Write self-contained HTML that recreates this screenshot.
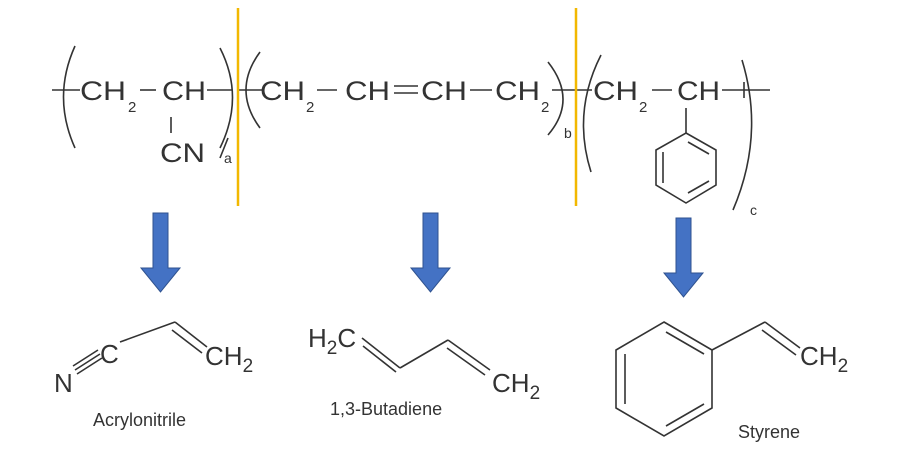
<!DOCTYPE html>
<html><head><meta charset="utf-8"><style>
html,body{margin:0;padding:0;background:#fff;width:915px;height:472px;overflow:hidden}
svg{display:block}
text{font-family:"Liberation Sans",Arial,sans-serif;fill:#333}
</style></head><body>
<svg width="915" height="472" viewBox="0 0 915 472" xmlns="http://www.w3.org/2000/svg">
<g stroke="#333" stroke-width="1.6" fill="none">
<!-- segment a -->
<line x1="52" y1="90" x2="80" y2="90"/>
<path d="M75 46 Q52 97 75 148"/>
<line x1="140" y1="90" x2="156" y2="90"/>
<line x1="207" y1="90" x2="232" y2="90"/>
<line x1="171" y1="117" x2="171" y2="133"/>
<path d="M220 48 Q245 97 220 148"/>
<path d="M228 138 L220 158"/>
<!-- segment b -->
<line x1="238" y1="90" x2="262" y2="90"/>
<path d="M260 52 Q232 90 260 128"/>
<line x1="317" y1="90" x2="337" y2="90"/>
<line x1="394" y1="86" x2="418" y2="86"/>
<line x1="394" y1="93" x2="418" y2="93"/>
<line x1="470" y1="90" x2="492" y2="90"/>
<line x1="552" y1="90" x2="592" y2="90"/>
<path d="M548 62 Q578 100 548 135"/>
<!-- segment c -->
<path d="M601 55 Q572 112 591 172"/>
<line x1="652" y1="90" x2="672" y2="90"/>
<line x1="722" y1="90" x2="770" y2="90"/>
<line x1="744" y1="82" x2="744" y2="98"/>
<path d="M742 60 Q765 135 733 210"/>
<line x1="686" y1="108" x2="686" y2="133"/>
<polygon points="686,133 716,150 716,185 686,203 656,185 656,150"/>
<line x1="688" y1="142" x2="709" y2="154"/>
<line x1="709" y1="181" x2="688" y2="193"/>
<line x1="663" y1="152" x2="663" y2="183"/>
</g>
<g font-size="27">
<text x="80" y="100" textLength="46" lengthAdjust="spacingAndGlyphs">CH</text><text x="128" y="112" font-size="15">2</text>
<text x="162" y="100" textLength="44" lengthAdjust="spacingAndGlyphs">CH</text>
<text x="160" y="162" textLength="45" lengthAdjust="spacingAndGlyphs">CN</text>
<text x="224" y="163" font-size="14">a</text>
<text x="260" y="100" textLength="45" lengthAdjust="spacingAndGlyphs">CH</text><text x="306" y="112" font-size="15">2</text>
<text x="345" y="100" textLength="45" lengthAdjust="spacingAndGlyphs">CH</text>
<text x="421" y="100" textLength="46" lengthAdjust="spacingAndGlyphs">CH</text>
<text x="495" y="100" textLength="45" lengthAdjust="spacingAndGlyphs">CH</text><text x="541" y="112" font-size="15">2</text>
<text x="564" y="138" font-size="14">b</text>
<text x="593" y="100" textLength="45" lengthAdjust="spacingAndGlyphs">CH</text><text x="639" y="112" font-size="15">2</text>
<text x="677" y="100" textLength="43" lengthAdjust="spacingAndGlyphs">CH</text>
<text x="750" y="215" font-size="14">c</text>
</g>
<!-- yellow lines -->
<line x1="238" y1="8" x2="238" y2="206" stroke="#f2b800" stroke-width="2.5"/>
<line x1="576" y1="8" x2="576" y2="206" stroke="#f2b800" stroke-width="2.5"/>
<!-- arrows -->
<g fill="#4472c4" stroke="#2f528f" stroke-width="1">
<polygon points="153,213 168,213 168,268 180,268 160.5,292 141,268 153,268"/>
<polygon points="423,213 438,213 438,268 450,268 430.5,292 411,268 423,268"/>
<polygon points="676,218 691,218 691,273 703,273 683.5,297 664,273 676,273"/>
</g>
<!-- bottom molecules -->
<g stroke="#333" stroke-width="1.6" fill="none">
<line x1="75" y1="370" x2="100" y2="354"/>
<line x1="73" y1="366" x2="98" y2="350"/>
<line x1="77" y1="374" x2="102" y2="358"/>
<line x1="120" y1="342" x2="175" y2="322"/>
<line x1="175" y1="322" x2="207" y2="347"/>
<line x1="172" y1="330" x2="202" y2="353"/>
<line x1="362" y1="338" x2="400" y2="368"/>
<line x1="363" y1="346" x2="396" y2="372"/>
<line x1="400" y1="368" x2="448" y2="340"/>
<line x1="448" y1="340" x2="490" y2="370"/>
<line x1="447" y1="348" x2="485" y2="375"/>
<polygon points="664,322 712,350 712,408 664,436 616,408 616,350"/>
<line x1="666" y1="332" x2="704" y2="354"/>
<line x1="704" y1="404" x2="666" y2="426"/>
<line x1="625" y1="354" x2="625" y2="404"/>
<line x1="712" y1="350" x2="765" y2="322"/>
<line x1="765" y1="322" x2="800" y2="348"/>
<line x1="762" y1="330" x2="796" y2="355"/>
</g>
<g font-size="26">
<text x="54" y="392">N</text>
<text x="100" y="363">C</text>
<text x="205" y="365">CH<tspan font-size="19" dy="7">2</tspan></text>
<text x="308" y="347">H<tspan font-size="19" dy="7">2</tspan><tspan dy="-7">C</tspan></text>
<text x="492" y="392">CH<tspan font-size="19" dy="7">2</tspan></text>
<text x="800" y="365">CH<tspan font-size="19" dy="7">2</tspan></text>
</g>
<g font-size="18">
<text x="93" y="426">Acrylonitrile</text>
<text x="330" y="415">1,3-Butadiene</text>
<text x="738" y="438">Styrene</text>
</g>
</svg>
</body></html>
